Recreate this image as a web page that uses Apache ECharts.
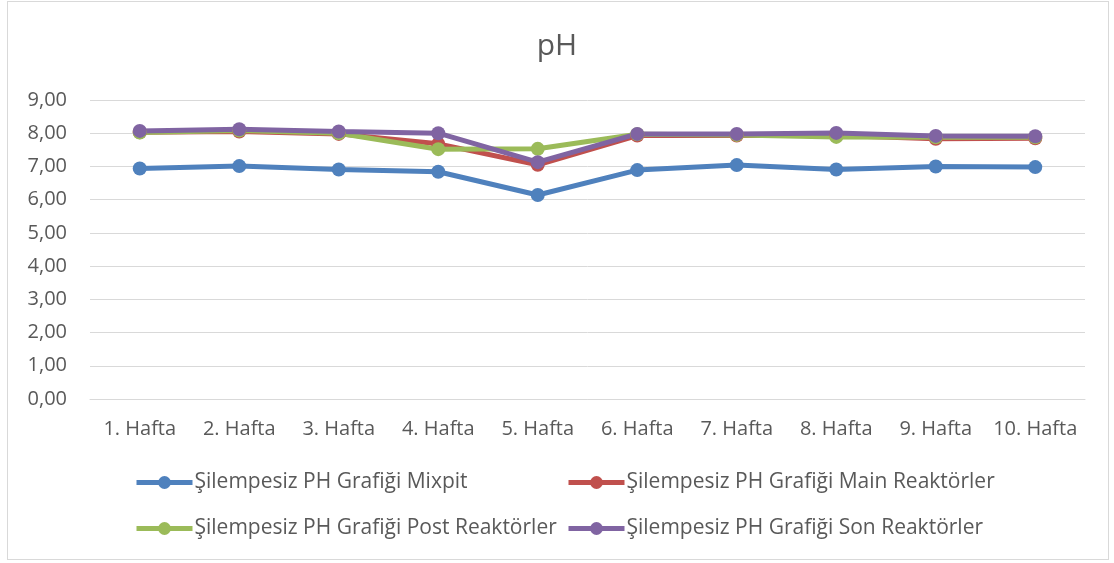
<!DOCTYPE html>
<html>
<head>
<meta charset="utf-8">
<script src="https://cdn.jsdelivr.net/npm/echarts@6/dist/echarts.min.js"></script>
<style>
html,body{margin:0;padding:0;background:#fff;}
#wrap{position:absolute;left:7px;top:1px;width:1102px;height:559px;border:1px solid #d9d9d9;box-sizing:border-box;}
#chart{position:absolute;left:0;top:0;width:1114px;height:563px;}
</style>
</head>
<body>
<div id="wrap"></div>
<div id="chart"></div>
<script>
const categories = ['1. Hafta','2. Hafta','3. Hafta','4. Hafta','5. Hafta','6. Hafta','7. Hafta','8. Hafta','9. Hafta','10. Hafta'];
const seriesNames = ['Şilempesiz PH Grafiği Mixpit','Şilempesiz PH Grafiği Main Reaktörler','Şilempesiz PH Grafiği Post Reaktörler','Şilempesiz PH Grafiği Son Reaktörler'];
const mixpit = [6.94, 7.01, 6.91, 6.84, 6.14, 6.89, 7.04, 6.91, 7.00, 6.98];
const mainR  = [8.03, 8.05, 7.98, 7.68, 7.05, 7.93, 7.93, 7.93, 7.83, 7.85];
const postR  = [8.02, 8.08, 8.00, 7.52, 7.53, 7.97, 7.95, 7.89, 7.88, 7.88];
const sonR   = [8.07, 8.12, 8.05, 8.00, 7.13, 7.98, 7.98, 8.01, 7.92, 7.91];
const colors = ['#4F81BD','#C0504D','#9BBB59','#8064A2'];
const yTicks = {min:0, max:9, interval:1};

const font = 'Open Sans, sans-serif';
const txt = '#595959';
const chart = echarts.init(document.getElementById('chart'));
const mk = (name, data, c) => ({
  name, type:'line', data, color:c,
  symbol:'circle', symbolSize:14,
  lineStyle:{width:5, color:c},
  itemStyle:{color:c},
  emphasis:{disabled:true}
});
const legendBase = {orient:'vertical', top:467, itemWidth:56, itemHeight:16, itemGap:25,
  lineStyle:{width:5}, textStyle:{fontFamily:font, fontSize:21, color:txt, padding:[0,0,0,-3]}};
chart.setOption({
  animation:false,
  title:{text:'pH', left:'center', top:26, textStyle:{fontFamily:font, fontSize:30, fontWeight:'normal', color:txt}},
  grid:{left:90, right:29, top:100, bottom:164},
  legend:[
    Object.assign({data:[seriesNames[0], seriesNames[2]], left:129}, legendBase),
    Object.assign({data:[seriesNames[1], seriesNames[3]], left:561}, legendBase)
  ],
  xAxis:{type:'category', data:categories, boundaryGap:true,
    axisLine:{lineStyle:{color:'#d9d9d9', width:1}}, axisTick:{show:false},
    axisLabel:{interval:0, fontFamily:font, fontSize:20, color:txt, margin:20}},
  yAxis:{type:'value', min:yTicks.min, max:yTicks.max, interval:yTicks.interval,
    axisLine:{show:false}, axisTick:{show:false},
    splitLine:{lineStyle:{color:'#d9d9d9', width:1}},
    axisLabel:{fontFamily:font, fontSize:20, color:txt, margin:23, formatter:v=>v.toFixed(2).replace('.',',')}},
  series:[mk(seriesNames[0], mixpit, colors[0]), mk(seriesNames[1], mainR, colors[1]), mk(seriesNames[2], postR, colors[2]), mk(seriesNames[3], sonR, colors[3])]
});
</script>
</body>
</html>
